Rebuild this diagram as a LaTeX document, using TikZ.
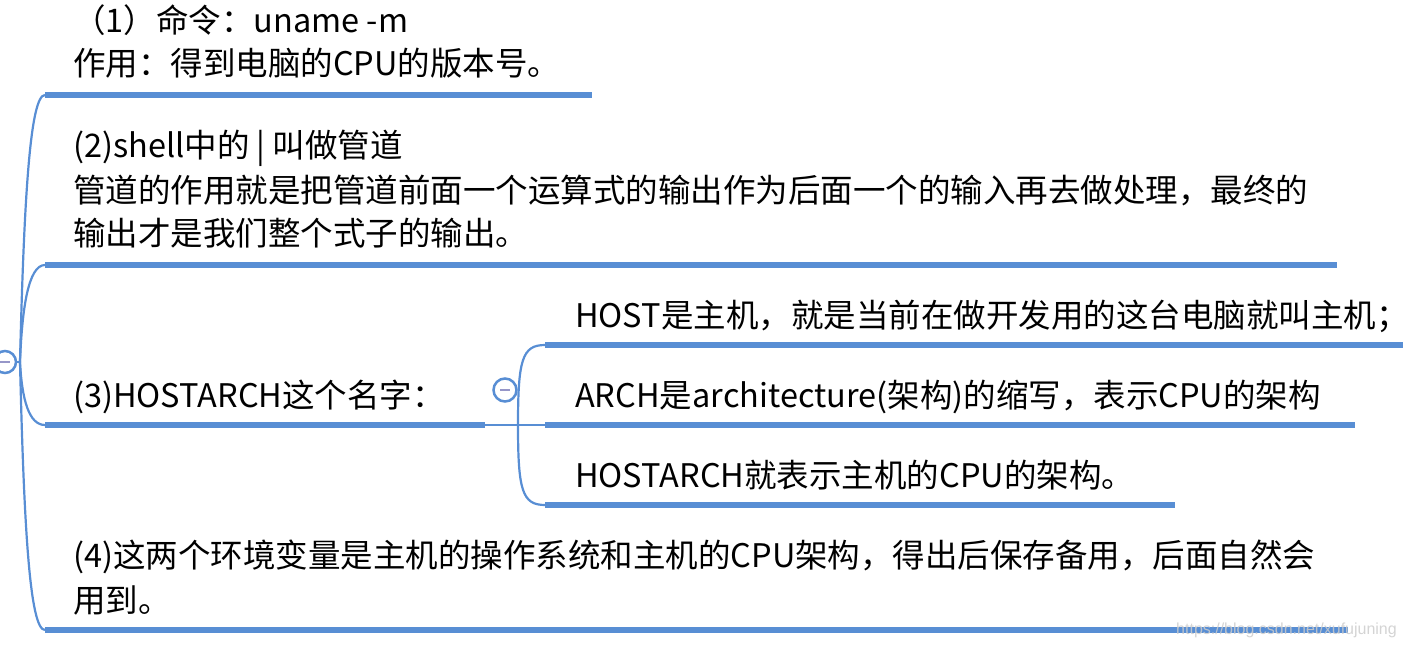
\documentclass[tikz,border=0pt]{standalone}
\usepackage{fontspec}
\setmainfont{Noto Sans CJK SC}
\newfontfamily\wmfont{Liberation Sans}
\definecolor{mapblue}{RGB}{88,142,212}
\definecolor{foldgray}{RGB}{150,150,200}

\begin{document}
\begin{tikzpicture}[x=1pt, y=-1pt,
    topic/.style={anchor=base west, inner sep=0pt, font=\fontsize{32.5}{40}\selectfont},
    bar/.style={mapblue, line width=6.5pt},
    branch/.style={mapblue, line width=2.2pt},
    fold/.style={circle, draw=mapblue, line width=2.5pt, fill=white, inner sep=0pt,
        path picture={\draw[foldgray, line width=2pt]
            ([xshift=-5pt]path picture bounding box.center) --
            ([xshift=5pt]path picture bounding box.center);}}]
    \useasboundingbox (0,0) rectangle (1403,645);

    % Define the ends of the underlines
    \coordinate (hub) at (20,362);
    \coordinate (b1s) at (45,95);   \coordinate (b1e) at (592,95);
    \coordinate (b2s) at (45,265);  \coordinate (b2e) at (1337,265);
    \coordinate (b3s) at (45,425);  \coordinate (b3e) at (485,425);
    \coordinate (b4s) at (45,630);  \coordinate (b4e) at (1348,630);
    \coordinate (joint) at (518,425);
    \coordinate (s1s) at (545,345); \coordinate (s1e) at (1403,345);
    \coordinate (s2s) at (545,425); \coordinate (s2e) at (1355,425);
    \coordinate (s3s) at (545,505); \coordinate (s3e) at (1175,505);

    % Underlines of the topics
    \draw[bar] (b1s) -- (b1e);
    \draw[bar] (b2s) -- (b2e);
    \draw[bar] (b3s) -- (b3e);
    \draw[bar] (b4s) -- (b4e);
    \draw[bar] (s1s) -- (s1e);
    \draw[bar] (s2s) -- (s2e);
    \draw[bar] (s3s) -- (s3e);

    % Root and its branches
    \node[fold, minimum size=22pt] (root) at (5,362) {};
    \draw[branch] (root.east) -- (hub);
    \draw[branch] (hub) .. controls (24,200) and (30,95) .. (b1s);
    \draw[branch] (hub) .. controls (22,310) and (28,265) .. (b2s);
    \draw[branch] (hub) .. controls (22,400) and (29,425) .. (b3s);
    \draw[branch] (hub) .. controls (24,530) and (30,630) .. (b4s);

    % Sub-branches of (3)
    \draw[branch] (b3e) -- (s2s);
    \draw[branch] (joint) .. controls (518,360) and (522,345) .. (s1s);
    \draw[branch] (joint) .. controls (518,490) and (522,505) .. (s3s);
    \node[fold, minimum size=23pt] (sub) at (505,390) {};

    % Texts
    \node[topic] (t1a) at (73,32) {（1）命令：uname -m};
    \node[topic] (t1b) at (73,75) {作用：得到电脑的CPU的版本号。};
    \node[topic] (t2a) at (73,157) {(2)shell中的 | 叫做管道};
    \node[topic] (t2b) at (73,202) {管道的作用就是把管道前面一个运算式的输出作为后面一个的输入再去做处理，最终的};
    \node[topic] (t2c) at (73,245) {输出才是我们整个式子的输出。};
    \node[topic] (t3) at (73,407) {(3)HOSTARCH这个名字：};
    \node[topic] (s1) at (575,327) {HOST是主机，就是当前在做开发用的这台电脑就叫主机；};
    \node[topic] (s2) at (575,407) {ARCH是architecture(架构)的缩写，表示CPU的架构};
    \node[topic] (s3) at (575,487) {HOSTARCH就表示主机的CPU的架构。};
    \node[topic] (t4a) at (73,567) {(4)这两个环境变量是主机的操作系统和主机的CPU架构，得出后保存备用，后面自然会};
    \node[topic] (t4b) at (73,612) {用到。};

    % Watermark
    \node[anchor=base west, inner sep=0pt, text=gray!40, text opacity=0.85,
        font=\wmfont\fontsize{16}{16}\selectfont] (mark) at (1176,634)
        {https://blog.csdn.net/xufujuning};
\end{tikzpicture}
\end{document}
